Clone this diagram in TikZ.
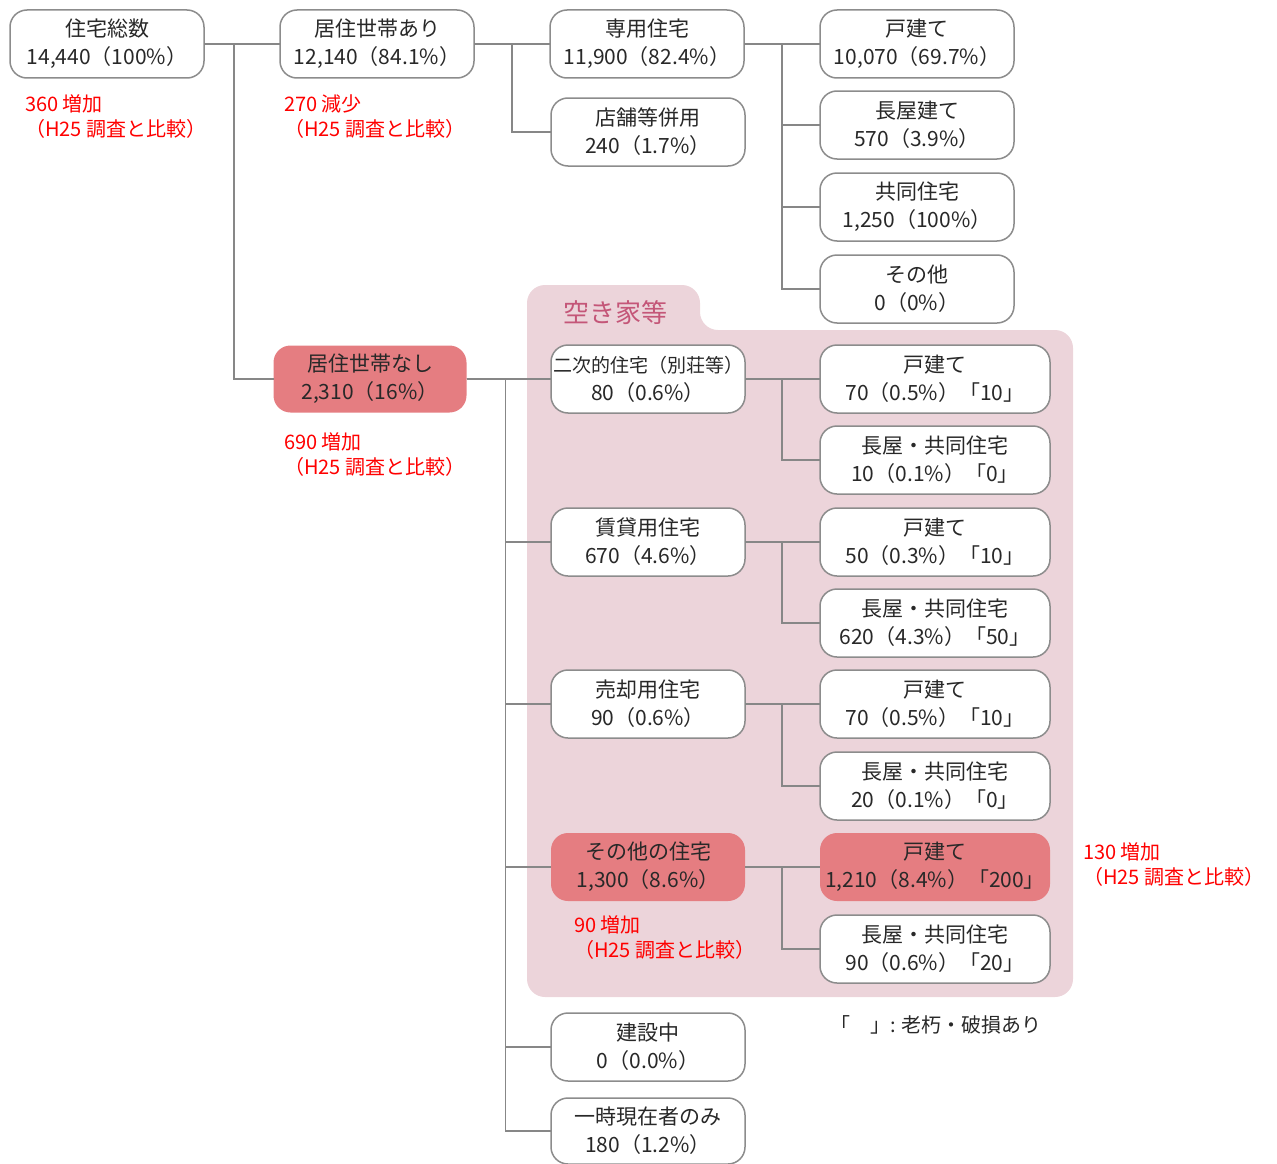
\documentclass[tikz,border=0pt]{standalone}
\usepackage{fontspec}
\setmainfont{Noto Sans CJK JP}
\definecolor{linegray}{RGB}{135,135,135}
\definecolor{boxgray}{RGB}{140,140,140}
\definecolor{pinkbg}{RGB}{236,212,218}
\definecolor{salmon}{RGB}{229,125,129}
\definecolor{rosetitle}{RGB}{196,86,120}
\definecolor{txt}{RGB}{40,40,40}
\begin{document}
\begin{tikzpicture}[x=1pt,y=-1pt,
  every node/.style={inner sep=0pt, outer sep=0pt},
  hbox/.style={draw=boxgray, line width=1.5pt, fill=white, rounded corners=17pt,
    minimum width=194pt, minimum height=68pt, align=center, text=txt,
    font=\fontsize{21}{28}\selectfont},
  wbox/.style={hbox, minimum width=230pt},
  hibox/.style={hbox, draw=none, fill=salmon},
  conn/.style={draw=linegray, line width=1.5pt},
  note/.style={anchor=west, align=left, text=red, font=\fontsize{20}{25}\selectfont}
]
\useasboundingbox (0,0) rectangle (1277,1164);
% background region
\fill[pinkbg, rounded corners=18pt] (527,997) -- (527,285) -- (700,285) -- (700,330) -- (1073,330) -- (1073,997) -- cycle;
\node[text=rosetitle, font=\fontsize{26}{30}\selectfont] (title) at (615,313) {空き家等};

% nodes
\node[hbox] (n1) at (107,44) {住宅総数\\14,440（100\%）};
\node[hbox] (n2) at (377,44) {居住世帯あり\\12,140（84.1\%）};
\node[hbox] (n3) at (647,44) {専用住宅\\11,900（82.4\%）};
\node[hbox] (n4) at (648,132) {店舗等併用\\240（1.7\%）};
\node[hbox] (n5) at (917,44) {戸建て\\10,070（69.7\%）};
\node[hbox] (n6) at (917,125) {長屋建て\\570（3.9\%）};
\node[hbox] (n7) at (917,207) {共同住宅\\1,250（100\%）};
\node[hbox] (n8) at (917,289) {その他\\0（0\%）};
\node[hibox, minimum width=193pt, minimum height=67pt] (n9) at (370,379) {居住世帯なし\\2,310（16\%）};

\node[hbox] (a1) at (648,379) {{\fontsize{19}{28}\selectfont 二次的住宅（別荘等）}\\80（0.6\%）};
\node[wbox] (a1a) at (935,379) {戸建て\\70（0.5\%）「10」};
\node[wbox] (a1b) at (935,460) {長屋・共同住宅\\10（0.1\%）「0」};
\node[hbox] (a2) at (648,542) {賃貸用住宅\\670（4.6\%）};
\node[wbox] (a2a) at (935,542) {戸建て\\50（0.3\%）「10」};
\node[wbox] (a2b) at (935,623) {長屋・共同住宅\\620（4.3\%）「50」};
\node[hbox] (a3) at (648,704) {売却用住宅\\90（0.6\%）};
\node[wbox] (a3a) at (935,704) {戸建て\\70（0.5\%）「10」};
\node[wbox] (a3b) at (935,786) {長屋・共同住宅\\20（0.1\%）「0」};
\node[hibox] (a4) at (648,867) {その他の住宅\\1,300（8.6\%）};
\node[hibox, minimum width=230pt] (a4a) at (935,867) {戸建て\\1,210（8.4\%）「200」};
\node[wbox] (a4b) at (935,949) {長屋・共同住宅\\90（0.6\%）「20」};
\node[hbox] (b1) at (648,1047) {建設中\\0（0.0\%）};
\node[hbox, minimum height=66pt] (b2) at (648,1131) {一時現在者のみ\\180（1.2\%）};

% connectors
\draw[conn] (n1.east) -- (n2.west);
\draw[conn] (n1.east) -- ++(30,0) |- (n9.west);
\draw[conn] (n2.east) -- (n3.west);
\draw[conn] (n2.east) -- ++(38,0) |- (n4.west);
\draw[conn] (n3.east) -- (n5.west);
\draw[conn] (n3.east) -- ++(38,0) |- (n6.west);
\draw[conn] (n3.east) -- ++(38,0) |- (n7.west);
\draw[conn] (n3.east) -- ++(38,0) |- (n8.west);
\draw[conn] (n9.east) -- (a1.west);
\foreach \t in {a2,a3,a4,b1,b2}{\draw[conn] (n9.east) -- ++(39,0) |- (\t.west);}
\foreach \s in {a1,a2,a3,a4}{
  \draw[conn] (\s.east) -- (\s a.west);
  \draw[conn] (\s.east) -- ++(37,0) |- (\s b.west);
}

% annotations
\node[note] (r1) at (25,117) {360 増加\\（H25 調査と比較）};
\node[note] (r2) at (284,117) {270 減少\\（H25 調査と比較）};
\node[note] (r3) at (284,455) {690 増加\\（H25 調査と比較）};
\node[note] (r4) at (574,938) {90 増加\\（H25 調査と比較）};
\node[note] (r5) at (1083,865) {130 増加\\（H25 調査と比較）};
\node[anchor=west, text=txt, font=\fontsize{20}{24}\selectfont] (legend) at (830,1025) {「　」: 老朽・破損あり};
\end{tikzpicture}
\end{document}
